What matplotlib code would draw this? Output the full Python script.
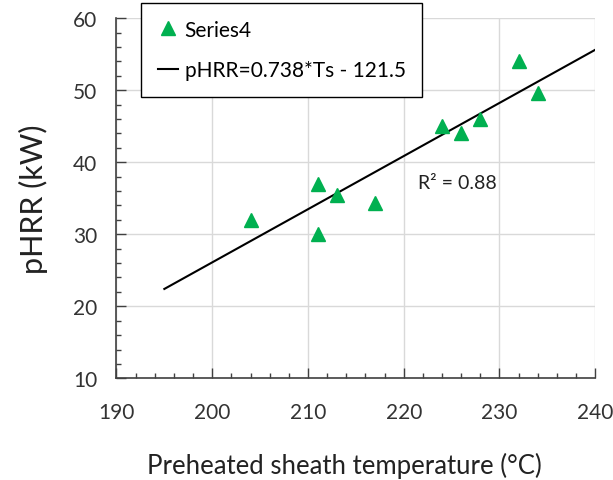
import numpy as np
import matplotlib
matplotlib.use("Agg")
import matplotlib.pyplot as plt
from matplotlib.ticker import MultipleLocator

plt.rcParams['font.family'] = ['Lato', 'DejaVu Sans']

# measured points
sheath_temp = [204, 211, 211, 213, 217, 224, 226, 228, 232, 234]
phrr = [32, 37, 30, 35.4, 34.4, 45, 44, 46, 54, 49.6]

# linear fit shown on the chart
slope = 0.738
intercept = -121.5
fit_x = np.array([195, 240])
r2_text = "R\u00b2 = 0.88"

x_ticks = [190, 200, 210, 220, 230, 240]
y_ticks = [10, 20, 30, 40, 50, 60]

green = '#00B050'

fig = plt.figure(figsize=(6.13, 4.81), dpi=100)
ax = fig.add_axes([0.190, 0.2114, 0.781, 0.7486])

ax.grid(True, color='#D9D9D9', linewidth=1, zorder=0)
ax.set_axisbelow(True)

ax.plot(sheath_temp, phrr, linestyle='none', marker='^', markersize=10,
        color=green, label='Series4', zorder=3)
ax.plot(fit_x, slope * fit_x + intercept, color='black', linewidth=1.5,
        label='pHRR=0.738*Ts - 121.5', zorder=2)

ax.text(221.5, 37.2, r2_text, fontsize=14, color='#222222', va='center')

ax.set_xlim(190, 240)
ax.set_ylim(10, 60)
ax.set_xticks(x_ticks)
ax.set_yticks(y_ticks)
ax.xaxis.set_minor_locator(MultipleLocator(2))
ax.yaxis.set_minor_locator(MultipleLocator(2))

for side in ['top', 'right']:
    ax.spines[side].set_visible(False)
for side in ['left', 'bottom']:
    ax.spines[side].set_color('#404040')
    ax.spines[side].set_linewidth(1.2)

ax.tick_params(which='both', direction='in', color='#404040', width=1,
               labelsize=15, labelcolor='#333333')
ax.tick_params(which='major', length=7)
ax.tick_params(which='minor', length=3.6)
ax.tick_params(axis='x', pad=17)
ax.tick_params(axis='y', pad=14)

ax.set_xlabel('Preheated sheath temperature (\u00b0C)', fontsize=18.5,
              color='#222222')
ax.xaxis.set_label_coords(0.477, -0.205)
ax.set_ylabel('pHRR (kW)', fontsize=22, color='#222222', labelpad=18)

leg = ax.legend(loc='upper left', bbox_to_anchor=(0.23, 0.992),
                bbox_transform=fig.transFigure, fontsize=15, frameon=True,
                fancybox=False, edgecolor='black', framealpha=1,
                handlelength=1.0, handletextpad=0.3, labelspacing=1.0,
                borderpad=0.8, borderaxespad=0, numpoints=1)
leg.get_frame().set_linewidth(1.0)

fig.savefig('out.png', dpi=100)
